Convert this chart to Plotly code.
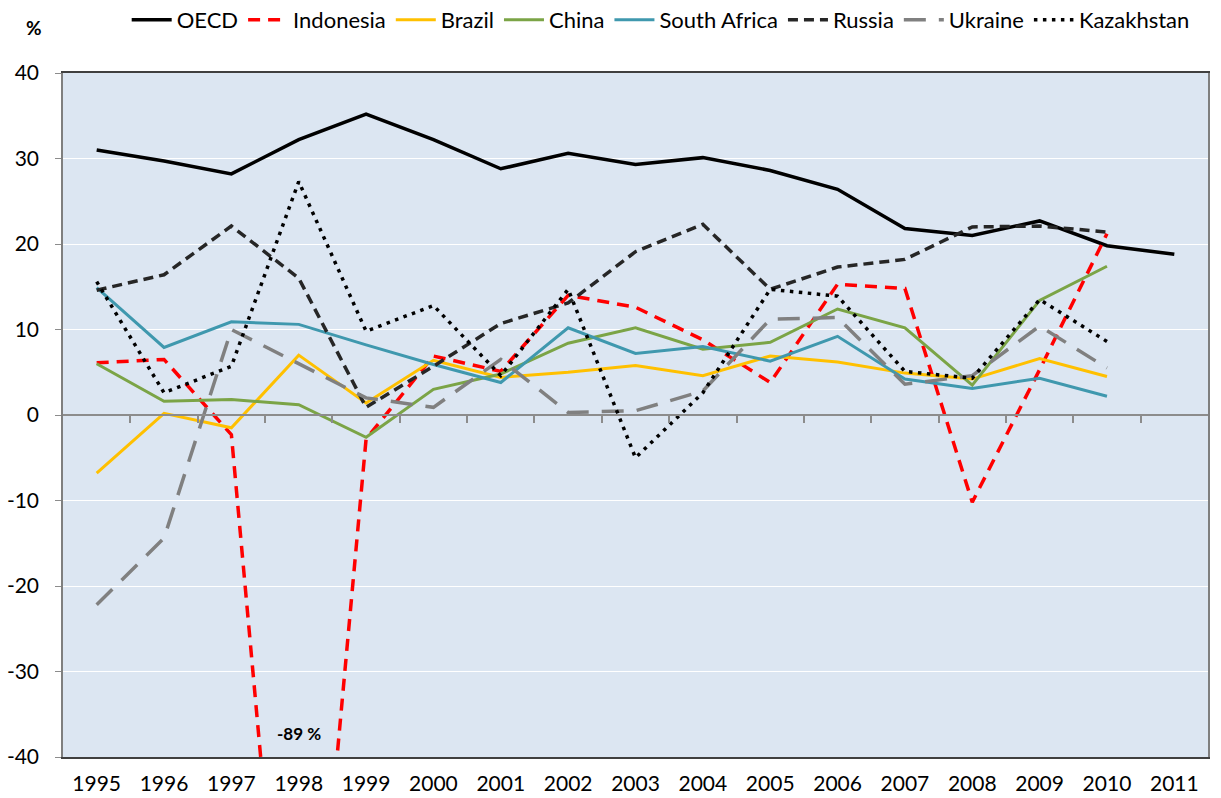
import plotly.graph_objects as go

years = list(range(1995, 2012))
year_labels = [str(y) for y in years]
y_ticks = [-40, -30, -20, -10, 0, 10, 20, 30, 40]
y_tick_labels = ["-40", "-30", "-20", "-10", "0", "10", "20", "30", "40"]

oecd = [31.0, 29.7, 28.2, 32.2, 35.2, 32.2, 28.8, 30.6, 29.3, 30.1, 28.6, 26.4, 21.8, 21.0, 22.7, 19.8, 18.8]
indonesia = [6.1, 6.5, -2.3, -89.0, -2.8, 6.9, 5.1, 14.0, 12.6, 8.8, 3.8, 15.3, 14.8, -10.2, 5.3, 21.2]
brazil = [-6.8, 0.2, -1.5, 7.0, 1.4, 6.4, 4.4, 5.0, 5.8, 4.6, 6.9, 6.2, 4.9, 4.2, 6.6, 4.5]
china = [6.0, 1.6, 1.8, 1.2, -2.6, 3.0, 4.8, 8.4, 10.2, 7.7, 8.5, 12.4, 10.2, 3.5, 13.4, 17.4]
south_africa = [14.9, 7.9, 10.9, 10.6, 8.2, 5.9, 3.8, 10.2, 7.2, 8.0, 6.3, 9.2, 4.2, 3.1, 4.3, 2.2]
russia = [14.6, 16.4, 22.1, 16.0, 0.9, 5.7, 10.7, 13.1, 19.1, 22.3, 14.7, 17.3, 18.2, 22.0, 22.1, 21.4]
ukraine = [-22.2, -14.4, 10.0, 6.0, 2.0, 0.9, 6.5, 0.3, 0.5, 2.8, 11.2, 11.4, 3.6, 4.6, 10.4, 5.5]
kazakhstan = [15.6, 2.6, 5.7, 27.3, 9.8, 12.8, 4.6, 14.7, -5.0, 2.6, 14.7, 13.9, 5.1, 4.3, 13.5, 8.6]

series = [
    ("OECD", oecd, "#000000", "solid", 3.5),
    ("Indonesia", indonesia, "#FF0000", "12px,8px", 3.5),
    ("Brazil", brazil, "#FFC000", "solid", 3),
    ("China", china, "#7BA446", "solid", 3),
    ("South Africa", south_africa, "#3F98AE", "solid", 3),
    ("Russia", russia, "#262626", "10px,6px", 3.5),
    ("Ukraine", ukraine, "#808080", "22px,13px", 3.5),
    ("Kazakhstan", kazakhstan, "#000000", "3.5px,5.5px", 3.5),
]

font_family = "Lato, 'Open Sans', 'Noto Sans', sans-serif"

fig = go.Figure()
for name, vals, color, dash, width in series:
    fig.add_trace(go.Scatter(
        x=years[:len(vals)], y=vals, name=name, mode="lines",
        line=dict(color=color, dash=dash, width=width),
    ))

# invisible trace so the zero-line category axis (x2) is drawn
fig.add_trace(go.Scatter(x=years, y=oecd, xaxis="x2", mode="lines",
                         line=dict(width=0), opacity=0, showlegend=False,
                         hoverinfo="skip"))

fig.add_annotation(x=1998, y=-37.2, text="<b>-89 %</b>", showarrow=False,
                   font=dict(size=17, color="#000000", family=font_family))
fig.add_annotation(xref="paper", yref="paper", x=-0.0253, y=1.066, text="<b>%</b>",
                   showarrow=False, xanchor="center", yanchor="middle",
                   font=dict(size=19, color="#000000", family=font_family))

fig.update_layout(
    width=1221, height=798,
    margin=dict(l=63, r=13, t=73, b=41, autoexpand=False),
    paper_bgcolor="white",
    plot_bgcolor="#DCE6F2",
    font=dict(family=font_family, size=20, color="#000000"),
    showlegend=True,
    legend=dict(orientation="h", x=0.522, y=1.0775, xanchor="center", yanchor="middle",
                font=dict(size=22), itemwidth=40,
                bgcolor="rgba(0,0,0,0)", tracegroupgap=0),
    xaxis=dict(range=[1994.5, 2011.5], tickvals=years, ticktext=year_labels,
               showgrid=False, zeroline=False, ticks="",
               showline=True, mirror=True, linecolor="#404040", linewidth=1.5,
               tickfont=dict(size=21), ticklabelstandoff=7),
    xaxis2=dict(overlaying="x", anchor="free", position=0.5,
                range=[1994.5, 2011.5],
                tickvals=[y + 0.5 for y in years[:-1]],
                showticklabels=False, ticks="outside", ticklen=7,
                tickcolor="#8c8c8c", tickwidth=1.5,
                showline=True, linecolor="#8c8c8c", linewidth=1.5,
                showgrid=False, zeroline=False),
    yaxis=dict(range=[-40, 40], tickvals=y_ticks, ticktext=y_tick_labels,
               showgrid=True, gridcolor="#FFFFFF",
               gridwidth=1.3, zeroline=False, ticks="outside", ticklen=6,
               tickcolor="#8c8c8c", showline=True, mirror=True,
               linecolor="#7f7f7f", linewidth=1.5, tickfont=dict(size=21),
               ticklabelstandoff=12),
)

fig.write_html("out.html", config={"displayModeBar": False},
               post_script="document.body.style.margin='0';document.body.style.overflow='hidden';")
